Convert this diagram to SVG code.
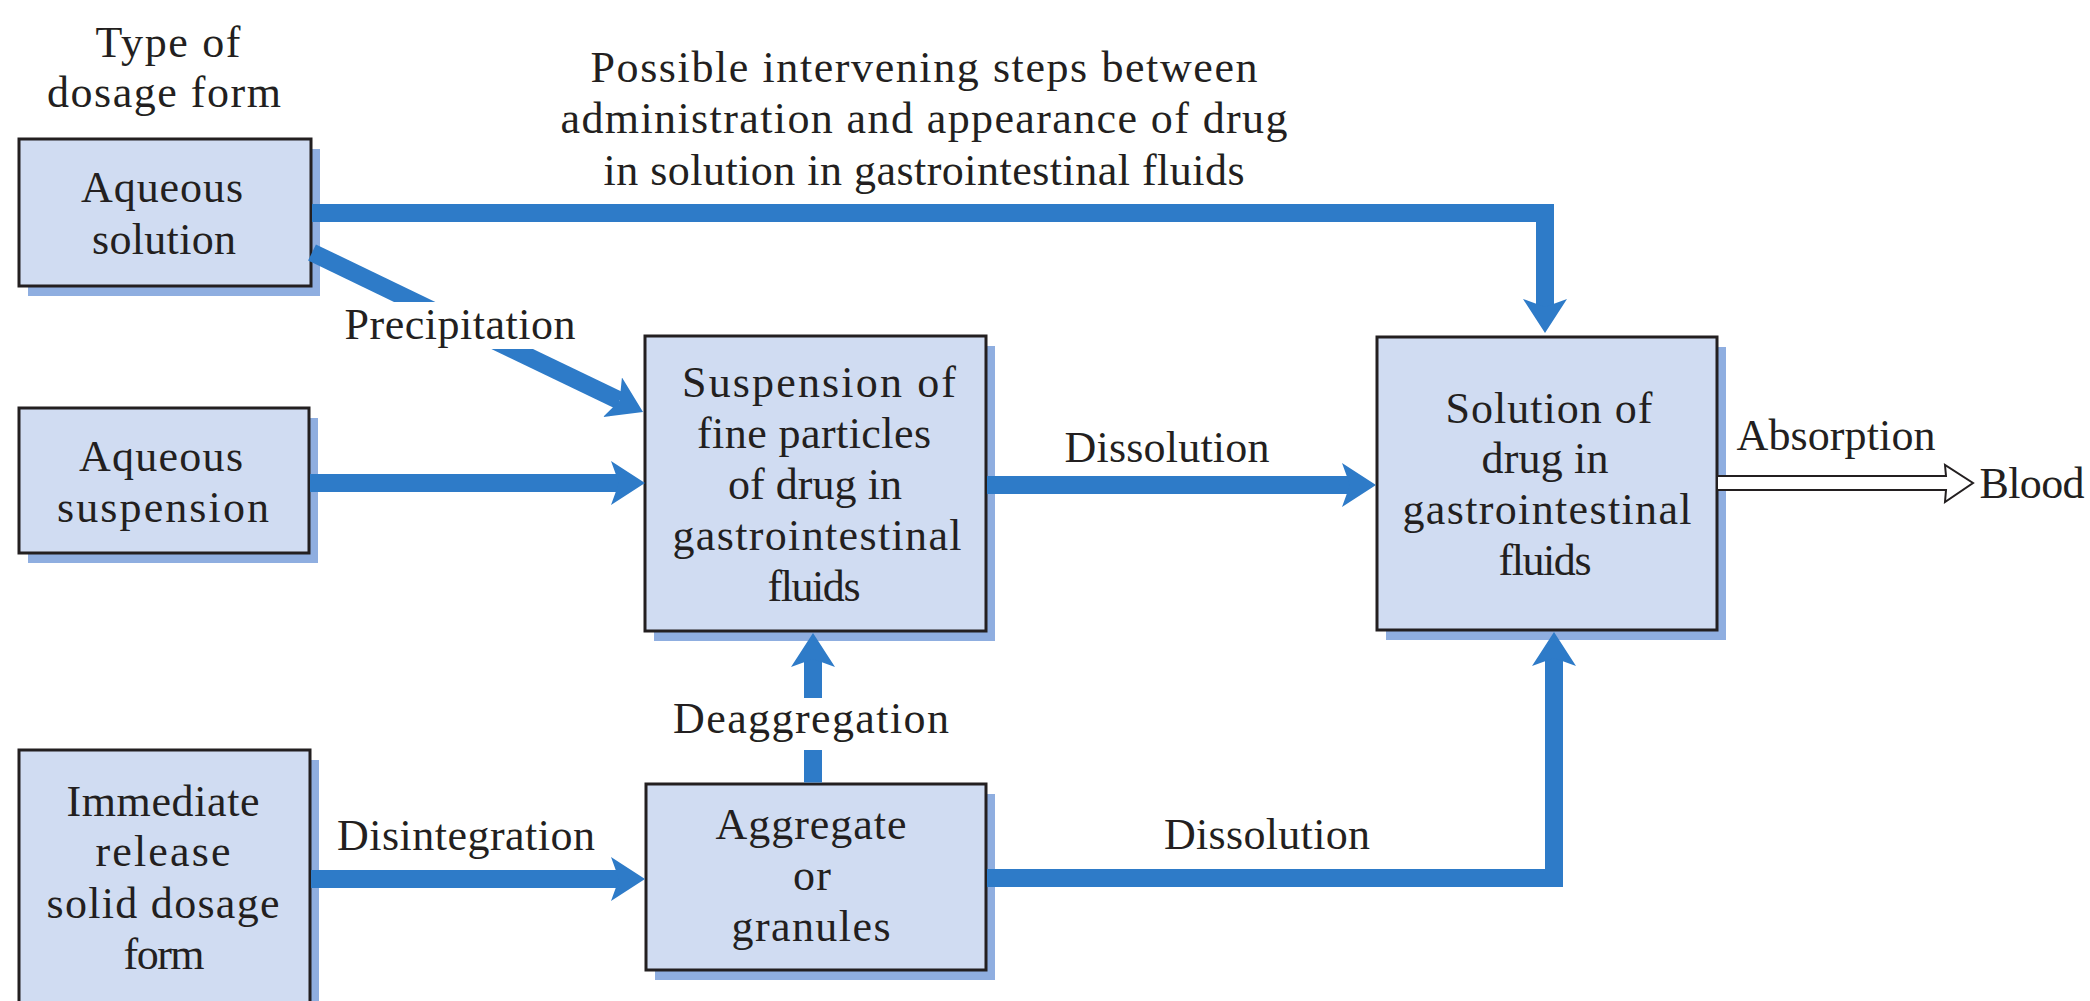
<svg xmlns="http://www.w3.org/2000/svg" width="2090" height="1001" viewBox="0 0 2090 1001">
<style>
text{font-family:"Liberation Serif","Times New Roman",serif;font-size:44px;fill:#231F20;text-anchor:middle}
.shadow{fill:#8FAEE0}
.box{fill:#D0DCF2;stroke:#231F20;stroke-width:3}
.shaft{fill:none;stroke:#2E7BC8;stroke-width:18;stroke-linejoin:miter}
.hollow{fill:#FFFFFF;stroke:#231F20;stroke-width:2;stroke-linejoin:miter}
</style>
<defs>
<marker id="head" markerUnits="userSpaceOnUse" viewBox="0 0 34 44" refX="8" refY="22" markerWidth="34" markerHeight="44" orient="auto">
<path d="M0,0 L34,22 L0,44 L8,22 Z" fill="#2E7BC8"/>
</marker>
<mask id="precipGap" maskUnits="userSpaceOnUse" x="0" y="0" width="2090" height="1001">
<rect x="0" y="0" width="2090" height="1001" fill="#fff"/>
<rect x="370" y="302" width="200" height="47" fill="#000"/>
</mask>
</defs>

<g id="headings">
<text x="168" y="57" textLength="145">Type of</text>
<text x="164" y="107" textLength="234">dosage form</text>
<text x="924" y="82" textLength="667">Possible intervening steps between</text>
<text x="924" y="133" textLength="727">administration and appearance of drug</text>
<text x="924" y="185" textLength="641">in solution in gastrointestinal fluids</text>
</g>

<g id="node-aqueous-solution">
<rect class="shadow" x="28" y="149" width="292" height="147"/>
<rect class="box" x="19" y="139" width="292" height="147"/>
<text x="162" y="202" textLength="162">Aqueous</text>
<text x="164" y="254" textLength="144">solution</text>
</g>

<g id="node-aqueous-suspension">
<rect class="shadow" x="28" y="418" width="290" height="145"/>
<rect class="box" x="19" y="408" width="290" height="145"/>
<text x="161" y="471" textLength="164">Aqueous</text>
<text x="163" y="522" textLength="212">suspension</text>
</g>

<g id="node-immediate-release">
<rect class="shadow" x="28" y="760" width="291" height="270"/>
<rect class="box" x="19" y="750" width="291" height="270"/>
<text x="163" y="816" textLength="193">Immediate</text>
<text x="163" y="866" textLength="135">release</text>
<text x="163" y="918" textLength="233">solid dosage</text>
<text x="164" y="969" textLength="81">form</text>
</g>

<g id="node-suspension-fine-particles">
<rect class="shadow" x="654" y="346" width="341" height="295"/>
<rect class="box" x="645" y="336" width="341" height="295"/>
<text x="819" y="397" textLength="274">Suspension of</text>
<text x="814" y="448" textLength="234">fine particles</text>
<text x="815" y="499" textLength="174">of drug in</text>
<text x="817" y="550" textLength="289">gastrointestinal</text>
<text x="814" y="601" textLength="93">fluids</text>
</g>

<g id="node-aggregate">
<rect class="shadow" x="655" y="794" width="340" height="186"/>
<rect class="box" x="646" y="784" width="340" height="186"/>
<text x="811" y="839" textLength="191">Aggregate</text>
<text x="812" y="890" textLength="38">or</text>
<text x="811" y="941" textLength="159">granules</text>
</g>

<g id="node-solution-gi">
<rect class="shadow" x="1386" y="347" width="340" height="293"/>
<rect class="box" x="1377" y="337" width="340" height="293"/>
<text x="1549" y="423" textLength="207">Solution of</text>
<text x="1545" y="473" textLength="127">drug in</text>
<text x="1547" y="524" textLength="289">gastrointestinal</text>
<text x="1545" y="575" textLength="93">fluids</text>
</g>

<g id="node-blood">
<text x="2032" y="498" textLength="105">Blood</text>
</g>

<g id="connectors">
<path class="shaft" d="M312,213 H1545 V307" marker-end="url(#head)"/>
<path class="shaft" d="M312,252.5 L619.6,400.7" marker-end="url(#head)" mask="url(#precipGap)"/>
<path class="shaft" d="M310,483 H619" marker-end="url(#head)"/>
<path class="shaft" d="M311,879 H619" marker-end="url(#head)"/>
<path class="shaft" d="M987,485 H1350" marker-end="url(#head)"/>
<path class="shaft" d="M813,782.5 V750"/>
<path class="shaft" d="M813,698 V659" marker-end="url(#head)"/>
<path class="shaft" d="M987,878 H1554 V658" marker-end="url(#head)"/>
<path class="hollow" d="M1718,476 H1946 L1945,465 L1973,483 L1945,502 L1946,490 H1718"/>
<text x="460" y="339" textLength="231">Precipitation</text>
<text x="466" y="850" textLength="258">Disintegration</text>
<text x="1167" y="462" textLength="205">Dissolution</text>
<text x="811" y="733" textLength="276">Deaggregation</text>
<text x="1267" y="849" textLength="206">Dissolution</text>
<text x="1836" y="450" textLength="199">Absorption</text>
</g>
</svg>
